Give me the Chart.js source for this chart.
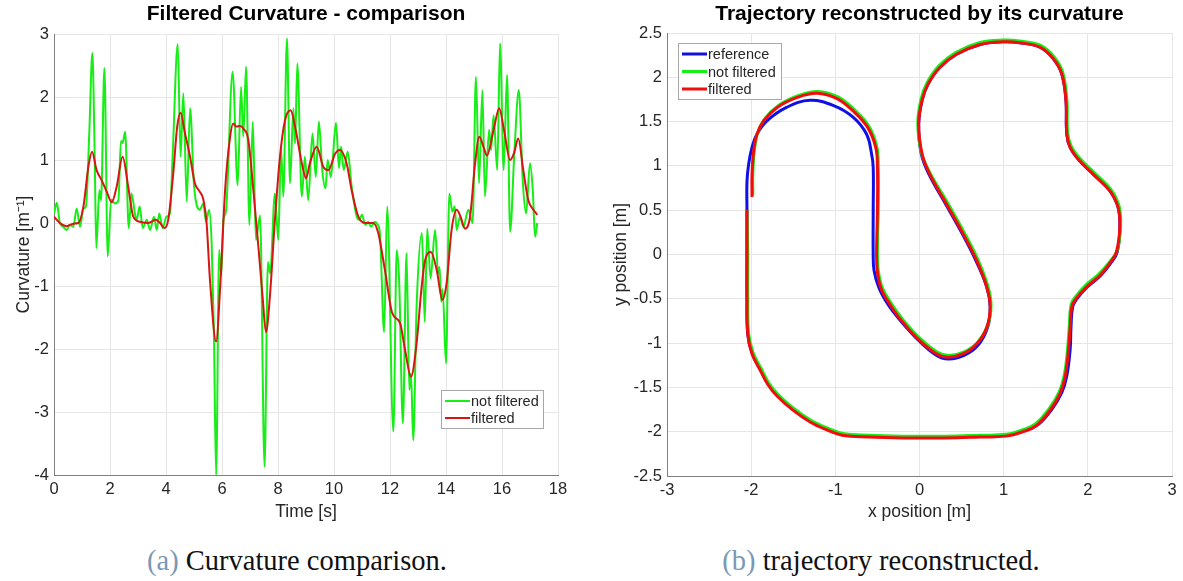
<!DOCTYPE html>
<html>
<head>
<meta charset="utf-8">
<title>Filtered curvature and reconstructed trajectory</title>
<script src="https://cdn.jsdelivr.net/npm/chart.js@4.4.1/dist/chart.umd.min.js"></script>
<style>
    html, body { margin: 0; padding: 0; background: #ffffff; }
    #page { position: relative; width: 1183px; height: 581px; overflow: hidden; }
    canvas { position: absolute; top: 0; }
    #curvCanvas { left: 0; }
    #trajCanvas { left: 590px; }
    .caption {
        position: absolute; top: 543px; font-family: "Liberation Serif", "DejaVu Serif", serif;
        font-size: 28.5px; line-height: 36px; color: #111; white-space: nowrap; transform: translateX(-50%);
    }
    .caption .tag { color: #7a98b6; }
</style>
</head>
<body>
<div id="page">
    <canvas id="curvCanvas" width="590" height="530"></canvas>
    <canvas id="trajCanvas" width="593" height="530"></canvas>
    <div class="caption" style="left:297px"><span class="tag">(a)</span> Curvature comparison.</div>
    <div class="caption" style="left:881px"><span class="tag">(b)</span> trajectory reconstructed.</div>
</div>
<script>
// --- Dados: curvatura (tempo em s, curvatura em 1/m) ---
const curvTimeRaw = [0.00, 0.10, 0.21, 0.33, 0.45, 0.57, 0.69, 0.81, 0.93, 1.05, 1.14, 1.26, 1.37, 1.45, 1.51, 1.62, 1.68, 1.80, 1.92, 2.04,
    2.18, 2.30, 2.39, 2.45, 2.54, 2.67, 2.77, 2.89, 2.95, 3.06, 3.17, 3.31, 3.43, 3.57, 3.67, 3.76, 3.88, 4.02, 4.14, 4.24,
    4.42, 4.52, 4.62, 4.74, 4.86, 5.00, 5.21, 5.33, 5.43, 5.54, 5.63, 5.71, 5.79, 5.90, 5.97, 6.05, 6.14, 6.38, 6.56, 6.68,
    6.76, 6.86, 6.98, 7.10, 7.21, 7.36, 7.52, 7.64, 7.72, 7.89, 8.01, 8.11, 8.19, 8.32, 8.43, 8.55, 8.61, 8.69, 8.85, 8.96,
    9.08, 9.23, 9.35, 9.46, 9.58, 9.70, 9.77, 9.89, 10.07, 10.18, 10.25, 10.35, 10.49, 10.63, 10.80, 10.90, 11.00, 11.12, 11.22, 11.32,
    11.46, 11.55, 11.64, 11.79, 11.90, 12.12, 12.24, 12.33, 12.46, 12.59, 12.69, 12.75, 12.83, 12.95, 13.14, 13.24, 13.33, 13.45, 13.61, 13.72,
    13.77, 13.83, 13.88, 14.00, 14.12, 14.23, 14.31, 14.38, 14.50, 14.62, 14.80, 14.95, 15.07, 15.18, 15.30, 15.39, 15.54, 15.61, 15.70, 15.83,
    15.93, 16.06, 16.18, 16.29, 16.44, 16.60, 16.74, 16.86, 17.00, 17.10, 17.18, 17.26];
const curvRaw = [0.15, 0.32, 0.00, -0.06, -0.11, -0.03, -0.06, 0.23, -0.06, 0.23, 0.26, 1.43, 2.70, 1.16, -0.40, 0.52, 0.36, 2.46, -0.53, 0.37,
    0.31, 0.36, 1.30, 1.27, 1.45, -0.08, 0.47, 0.15, 0.05, 0.26, -0.08, 0.05, -0.11, 0.10, -0.11, 0.15, -0.08, 0.10, 0.15, 1.10,
    2.84, 1.05, 2.06, 0.34, 1.82, 0.60, 0.21, 0.31, 0.02, 0.21, -0.32, -1.70, -4.00, -0.43, -0.83, 0.05, 0.18, 2.40, 0.60, 2.16,
    1.37, 2.48, -0.03, 1.61, -0.27, 0.12, -3.87, -0.62, -0.80, 0.47, -0.27, 1.18, 0.42, 2.93, 0.63, 1.82, 1.26, 2.53, 0.42, 1.05,
    0.36, 1.42, 0.73, 1.61, 0.84, 0.55, 1.00, 0.73, 1.59, 0.87, 1.21, 0.84, 1.13, 0.58, 0.12, 0.05, 0.13, -0.03, 0.02, -0.06,
    0.02, -0.02, -0.16, -1.73, 0.26, -3.31, -0.43, -0.96, -3.18, -0.48, -2.65, -2.39, -3.45, -1.33, -0.16, -1.57, -0.09, -0.88, -0.11, -0.80,
    -0.70, -1.25, -1.05, -2.23, 0.47, 0.18, 0.26, -0.11, 0.10, -0.06, 0.21, 0.00, 2.32, 0.63, 2.11, 0.42, 1.48, 1.16, 1.71, 0.84,
    2.85, 0.84, 2.35, -0.14, 1.11, 2.11, 0.68, 0.15, 0.95, 0.52, -0.22, 0.00];

const curvTimeFilt = [0.00, 0.21, 0.45, 0.69, 0.87, 1.05, 1.23, 1.36, 1.52, 1.70, 1.88, 2.06, 2.24, 2.45, 2.65, 2.83, 3.07, 3.37, 3.64, 3.79,
    3.94, 4.08, 4.26, 4.40, 4.52, 4.68, 4.86, 5.03, 5.20, 5.33, 5.45, 5.57, 5.79, 5.93, 6.11, 6.29, 6.40, 6.50, 6.65, 6.76,
    6.94, 7.12, 7.30, 7.45, 7.57, 7.71, 7.89, 8.07, 8.25, 8.45, 8.61, 8.85, 9.00, 9.14, 9.38, 9.62, 9.80, 10.04, 10.21, 10.45,
    10.63, 10.87, 11.11, 11.40, 11.58, 11.82, 12.08, 12.36, 12.54, 12.75, 12.95, 13.13, 13.25, 13.46, 13.67, 13.87, 14.02, 14.20, 14.38, 14.52,
    14.68, 14.86, 15.04, 15.19, 15.36, 15.46, 15.71, 15.90, 16.07, 16.29, 16.43, 16.58, 16.76, 16.94, 17.12, 17.26];
const curvFilt = [0.10, 0.00, -0.05, -0.01, 0.00, 0.26, 0.90, 1.13, 0.84, 0.68, 0.50, 0.33, 0.58, 1.05, 0.58, 0.10, 0.02, 0.00, 0.05, 0.00,
    -0.08, 0.05, 0.79, 1.53, 1.75, 1.42, 1.05, 0.63, 0.50, 0.38, 0.00, -0.90, -1.88, -1.06, 0.52, 1.37, 1.58, 1.53, 1.54, 1.50,
    1.32, 0.52, -0.38, -1.17, -1.73, -1.17, 0.05, 1.05, 1.63, 1.79, 1.53, 0.95, 0.71, 0.95, 1.21, 0.89, 0.84, 1.10, 1.16, 0.95,
    0.52, 0.10, 0.00, 0.00, -0.16, -0.75, -1.43, -1.59, -2.02, -2.44, -1.91, -1.01, -0.60, -0.46, -0.75, -1.22, -0.96, -0.11, 0.21, 0.10,
    -0.09, 0.10, 0.95, 1.37, 1.18, 1.07, 1.50, 1.82, 1.48, 1.00, 1.11, 1.34, 0.84, 0.36, 0.21, 0.13];

const curvTicksX = [0, 2, 4, 6, 8, 10, 12, 14, 16, 18];
const curvTicksY = [-4, -3, -2, -1, 0, 1, 2, 3];

// --- Dados: trajetória (x, y em m) ---
const refX = [-2.05, -2.05, -2.05, -2.04, -1.99, -1.89, -1.80, -1.69, -1.50, -1.30, -1.10, -0.92, -0.60, -0.20, 0.30, 0.72, 1.03, 1.24, 1.41, 1.57,
    1.69, 1.75, 1.79, 1.80, 1.82, 1.87, 1.99, 2.15, 2.27, 2.35, 2.38, 2.36, 2.26, 2.06, 1.90, 1.79, 1.75, 1.74, 1.69, 1.59,
    1.43, 1.19, 0.99, 0.72, 0.44, 0.24, 0.10, 0.03, -0.01, 0.02, 0.11, 0.31, 0.51, 0.67, 0.80, 0.84, 0.81, 0.70, 0.53, 0.34,
    0.19, -0.01, -0.24, -0.37, -0.48, -0.54, -0.55, -0.55, -0.55, -0.57, -0.63, -0.79, -1.02, -1.30, -1.58, -1.81, -1.93, -1.99, -2.03, -2.05,
    -2.05];
const refY = [0.50, 0.00, -0.50, -0.90, -1.11, -1.30, -1.46, -1.59, -1.75, -1.88, -1.97, -2.03, -2.05, -2.06, -2.06, -2.05, -2.04, -1.99, -1.92, -1.75,
    -1.56, -1.37, -1.07, -0.82, -0.59, -0.50, -0.37, -0.24, -0.10, 0.03, 0.31, 0.53, 0.72, 0.91, 1.06, 1.21, 1.36, 1.74, 2.04, 2.21,
    2.34, 2.39, 2.40, 2.37, 2.26, 2.11, 1.92, 1.74, 1.47, 1.14, 0.91, 0.57, 0.23, -0.07, -0.37, -0.59, -0.82, -1.02, -1.14, -1.18,
    -1.13, -0.97, -0.73, -0.57, -0.38, -0.18, 0.00, 0.50, 0.98, 1.14, 1.36, 1.55, 1.68, 1.74, 1.66, 1.51, 1.36, 1.21, 1.02, 0.82,
    0.50];

const rawX = [-2.05, -2.04, -2.04, -2.03, -1.98, -1.88, -1.79, -1.68, -1.49, -1.29, -1.09, -0.91, -0.60, -0.20, 0.30, 0.72, 1.03, 1.22, 1.38, 1.54,
    1.66, 1.72, 1.76, 1.78, 1.80, 1.85, 1.97, 2.13, 2.26, 2.35, 2.39, 2.37, 2.27, 2.07, 1.91, 1.80, 1.76, 1.75, 1.70, 1.60,
    1.44, 1.19, 0.99, 0.71, 0.43, 0.23, 0.09, 0.02, -0.02, 0.02, 0.12, 0.33, 0.53, 0.69, 0.81, 0.85, 0.81, 0.69, 0.53, 0.35,
    0.21, 0.01, -0.21, -0.33, -0.44, -0.49, -0.50, -0.49, -0.49, -0.51, -0.61, -0.78, -0.97, -1.21, -1.45, -1.68, -1.84, -1.92, -1.96, -1.98,
    -1.98];
const rawY = [0.50, 0.00, -0.50, -0.89, -1.10, -1.29, -1.45, -1.58, -1.74, -1.87, -1.96, -2.02, -2.04, -2.05, -2.05, -2.04, -2.03, -1.98, -1.91, -1.74,
    -1.55, -1.36, -1.06, -0.80, -0.57, -0.48, -0.35, -0.22, -0.08, 0.05, 0.33, 0.55, 0.74, 0.93, 1.08, 1.23, 1.38, 1.76, 2.06, 2.23,
    2.36, 2.41, 2.42, 2.39, 2.28, 2.13, 1.94, 1.76, 1.49, 1.16, 0.93, 0.59, 0.25, -0.05, -0.35, -0.57, -0.80, -0.99, -1.10, -1.14,
    -1.10, -0.95, -0.72, -0.56, -0.38, -0.18, 0.02, 0.52, 1.00, 1.23, 1.46, 1.64, 1.78, 1.84, 1.79, 1.68, 1.53, 1.38, 1.19, 0.93,
    0.67];

const filtX = [-2.05, -2.05, -2.05, -2.04, -1.99, -1.89, -1.80, -1.69, -1.50, -1.30, -1.10, -0.92, -0.60, -0.20, 0.30, 0.72, 1.03, 1.23, 1.39, 1.55,
    1.67, 1.73, 1.77, 1.79, 1.81, 1.86, 1.98, 2.14, 2.26, 2.34, 2.38, 2.36, 2.26, 2.06, 1.90, 1.79, 1.75, 1.74, 1.69, 1.59,
    1.43, 1.19, 0.99, 0.72, 0.44, 0.24, 0.10, 0.03, -0.01, 0.03, 0.12, 0.32, 0.52, 0.68, 0.80, 0.84, 0.80, 0.68, 0.52, 0.34,
    0.20, 0.00, -0.22, -0.34, -0.45, -0.50, -0.51, -0.50, -0.50, -0.52, -0.62, -0.79, -0.98, -1.22, -1.46, -1.69, -1.85, -1.93, -1.97, -1.99,
    -1.99];
const filtY = [0.50, 0.00, -0.50, -0.90, -1.12, -1.31, -1.47, -1.60, -1.76, -1.89, -1.98, -2.04, -2.06, -2.07, -2.07, -2.06, -2.05, -2.00, -1.93, -1.76,
    -1.57, -1.38, -1.08, -0.82, -0.59, -0.50, -0.37, -0.24, -0.10, 0.03, 0.31, 0.53, 0.72, 0.91, 1.06, 1.21, 1.36, 1.74, 2.04, 2.21,
    2.34, 2.39, 2.40, 2.37, 2.26, 2.11, 1.92, 1.74, 1.47, 1.14, 0.91, 0.57, 0.23, -0.07, -0.37, -0.59, -0.82, -1.01, -1.12, -1.16,
    -1.12, -0.97, -0.74, -0.58, -0.40, -0.20, 0.00, 0.50, 0.98, 1.21, 1.44, 1.62, 1.76, 1.82, 1.77, 1.66, 1.51, 1.36, 1.17, 0.91,
    0.65];

const trajTicksX = [-3, -2, -1, 0, 1, 2, 3];
const trajTicksY = [-2.5, -2, -1.5, -1, -0.5, 0, 0.5, 1, 1.5, 2, 2.5];

// --- Estilo ---
const GREEN = '#16ee16';
const RED_A = '#d81414';
const RED_B = '#f20c0c';
const BLUE = '#1010e6';
const GRID = '#e6e6e6';
const AXIS = '#7f7f7f';
const TEXT = '#262626';

Chart.defaults.font.family = '"Liberation Sans", Arial, Helvetica, sans-serif';
Chart.defaults.color = TEXT;

function toPoints(xs, ys) {
    return xs.map((x, i) => ({ x: x, y: ys[i] }));
}

// legenda desenhada dentro da área do gráfico (estilo MATLAB)
const boxLegend = {
    id: 'boxLegend',
    afterDatasetsDraw(chart, args, opts) {
        const { ctx, chartArea } = chart;
        const x0 = chartArea.left + opts.x;
        const y0 = chartArea.top + opts.y;
        ctx.save();
        ctx.fillStyle = '#ffffff';
        ctx.fillRect(x0, y0, opts.w, opts.h);
        ctx.strokeStyle = '#a8a8a8';
        ctx.lineWidth = 1;
        ctx.strokeRect(x0 + 0.5, y0 + 0.5, opts.w, opts.h);
        ctx.font = '14.5px "Liberation Sans", Arial, sans-serif';
        ctx.textBaseline = 'middle';
        opts.items.forEach((idx, row) => {
            const ds = chart.data.datasets[idx];
            const yy = y0 + opts.rowTop + row * opts.rowGap;
            ctx.strokeStyle = ds.borderColor;
            ctx.lineWidth = ds.borderWidth;
            ctx.beginPath();
            ctx.moveTo(x0 + 4, yy);
            ctx.lineTo(x0 + 29, yy);
            ctx.stroke();
            ctx.fillStyle = TEXT;
            ctx.fillText(ds.label, x0 + 30, yy + 1);
        });
        ctx.restore();
    }
};

function axisOptions(min, max, ticks, title, fit, titlePad) {
    return {
        type: 'linear',
        min: min,
        max: max,
        afterBuildTicks: (scale) => { scale.ticks = ticks.map(v => ({ value: v })); },
        afterFit: fit,
        ticks: { font: { size: 16.5 }, color: TEXT, padding: 5, maxRotation: 0, autoSkip: false,
                 callback: (v) => String(v) },
        grid: { color: GRID, lineWidth: 1, drawTicks: false },
        border: { color: AXIS, width: 1 },
        title: { display: true, text: title, font: { size: 17.5 }, color: TEXT, padding: titlePad }
    };
}

// --- Gráfico (a): curvatura ---
new Chart(document.getElementById('curvCanvas'), {
    type: 'scatter',
    data: {
        datasets: [
            { label: 'not filtered', data: toPoints(curvTimeRaw, curvRaw), borderColor: GREEN, borderWidth: 2,
              showLine: true, pointRadius: 0, cubicInterpolationMode: 'monotone', order: 1 },
            { label: 'filtered', data: toPoints(curvTimeFilt, curvFilt), borderColor: RED_A, borderWidth: 2,
              showLine: true, pointRadius: 0, cubicInterpolationMode: 'monotone', order: 0 }
        ]
    },
    options: {
        responsive: false,
        animation: false,
        devicePixelRatio: 1,
        layout: { padding: { left: 0, right: 32, top: 0, bottom: 0 } },
        scales: {
            x: axisOptions(0, 18, curvTicksX, 'Time [s]', s => { s.height = 55; }, { top: 0, bottom: 7 }),
            y: axisOptions(-4, 3, curvTicksY, 'Curvature [m\u207B\u00B9]', s => { s.width = 54; }, { top: 14, bottom: 0 })
        },
        plugins: {
            legend: { display: false },
            tooltip: { enabled: false },
            title: { display: true, fullSize: false, text: 'Filtered Curvature - comparison', color: '#000',
                     font: { size: 21, weight: 'bold' }, padding: { top: 2, bottom: 6.8 } },
            boxLegend: { x: 387, y: 356, w: 102, h: 38, rowTop: 11, rowGap: 17, items: [0, 1] }
        }
    },
    plugins: [boxLegend]
});

// --- Gráfico (b): trajetória ---
new Chart(document.getElementById('trajCanvas'), {
    type: 'scatter',
    data: {
        datasets: [
            { label: 'reference', data: toPoints(refX, refY), borderColor: BLUE, borderWidth: 3,
              showLine: true, pointRadius: 0, tension: 0.4, order: 2 },
            { label: 'not filtered', data: toPoints(rawX, rawY), borderColor: GREEN, borderWidth: 3,
              showLine: true, pointRadius: 0, tension: 0.4, order: 1 },
            { label: 'filtered', data: toPoints(filtX, filtY), borderColor: RED_B, borderWidth: 3,
              showLine: true, pointRadius: 0, tension: 0.4, order: 0 }
        ]
    },
    options: {
        responsive: false,
        animation: false,
        devicePixelRatio: 1,
        layout: { padding: { left: 0, right: 11, top: 0, bottom: 0 } },
        scales: {
            x: axisOptions(-3, 3, trajTicksX, 'x position [m]', s => { s.height = 54; }, { top: 0, bottom: 7 }),
            y: axisOptions(-2.5, 2.5, trajTicksY, 'y position [m]', s => { s.width = 77; }, { top: 21, bottom: 0 })
        },
        plugins: {
            legend: { display: false },
            tooltip: { enabled: false },
            title: { display: true, fullSize: false, text: 'Trajectory reconstructed by its curvature', color: '#000',
                     font: { size: 21, weight: 'bold' }, padding: { top: 2, bottom: 5.8 } },
            boxLegend: { x: 11, y: 10, w: 103, h: 56, rowTop: 11, rowGap: 17.5, items: [0, 1, 2] }
        }
    },
    plugins: [boxLegend]
});
</script>
</body>
</html>
